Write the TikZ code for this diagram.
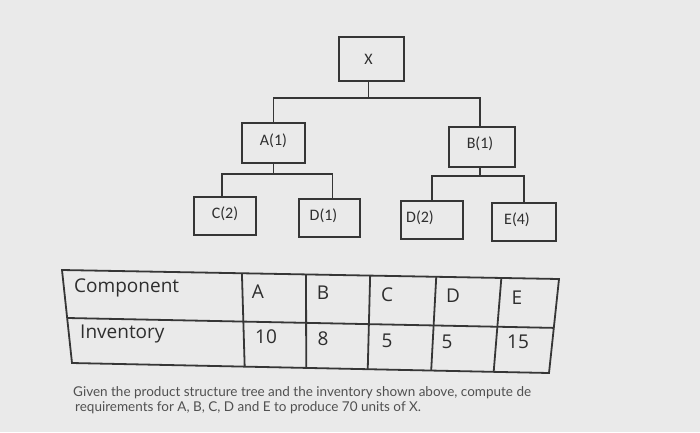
\documentclass[tikz,border=0pt]{standalone}
\usepackage{fontspec}
\setmainfont{Carlito}
\newfontfamily\tblfont{Open Sans}
\newfontfamily\capfont{Lato}
\usetikzlibrary{calc}
\definecolor{bg}{HTML}{EAEAEA}
\definecolor{ink}{HTML}{363636}
\definecolor{txt}{HTML}{2E2E2E}
\definecolor{captxt}{HTML}{505050}
\tikzset{
  treebox/.style={draw=ink, line width=1.6pt, fill=bg, minimum width=#1, inner sep=0pt},
  treebox/.default=63pt,
  lbl/.style={font=\fontsize{16}{18}\selectfont, text=txt},
  conn/.style={draw=ink, line width=1.6pt},
  tablegrid/.style={draw=ink, line width=1.8pt},
  cell/.style={font=\tblfont\fontsize{19}{21}\selectfont, text=txt, inner sep=0pt},
  captext/.style={font=\capfont\fontsize{13.5}{15}\selectfont, text=captxt, anchor=west, inner sep=0pt}
}
\begin{document}
\begin{tikzpicture}[x=1pt,y=-1pt]
\fill[bg] (0,0) rectangle (700,432);
\useasboundingbox (0,0) rectangle (700,432);

% tree boxes
\node[treebox=65pt, minimum height=44pt, label={[lbl,xshift=-3pt]center:X}] (X) at (371.5,59) {};
\node[treebox=63pt, minimum height=40pt, label={[lbl,yshift=2pt]center:A(1)}] (A) at (273.5,143) {};
\node[treebox=66pt, minimum height=40pt, label={[lbl,xshift=-2pt,yshift=3pt]center:B(1)}] (B) at (482,147) {};
\node[treebox=62pt, minimum height=38pt, label={[lbl,yshift=2pt]center:C(2)}] (C) at (225,216) {};
\node[treebox=61pt, minimum height=38pt, label={[lbl,xshift=-6pt,yshift=2pt]center:D(1)}] (D1) at (329.5,218) {};
\node[treebox=62pt, minimum height=38pt, label={[lbl,xshift=-12pt,yshift=2pt]center:D(2)}] (D2) at (432,220) {};
\node[treebox=64pt, minimum height=38pt, label={[lbl,xshift=-7pt,yshift=2pt]center:E(4)}] (E) at (524,222) {};

% connectors
\draw[conn] ([xshift=-3pt]X.south) -- ++(0,16) coordinate (xbar);
\draw[conn] (xbar) -| (A.north);
\draw[conn] (xbar) -| ([xshift=-2pt]B.north);
\draw[conn] (A.south) -- ++(0,10) coordinate (abar);
\draw[conn] (abar) -| ([xshift=-3pt]C.north);
\draw[conn] (abar) -| ([xshift=3pt]D1.north);
\draw[conn] ([xshift=-2pt]B.south) -- ++(0,8) coordinate (bbar);
\draw[conn] (bbar) -| (D2.north);
\draw[conn] (bbar) -| (E.north);

% table
\coordinate (TL) at (62,270);
\coordinate (TR) at (559,279);
\coordinate (BL) at (72,363);
\coordinate (BR) at (549,373);
\coordinate (ML) at ($(TL)!0.516!(BL)$);
\coordinate (MR) at ($(TR)!0.52!(BR)$);
\draw[tablegrid] (TL) -- (TR) -- (BR) -- (BL) -- cycle;
\draw[tablegrid] (ML) -- (MR);
\foreach \u in {0.362,0.491,0.620,0.753,0.884}{
  \draw[tablegrid] ($(TL)!\u!(TR)$) -- ($(BL)!\u!(BR)$);
}

\node[cell, anchor=west] (hc) at (74,288) {Component};
\node[cell, anchor=west] (hi) at (80,334) {Inventory};
\node[cell] (ha) at (258,292) {A};
\node[cell] (hb) at (323,293) {B};
\node[cell] (hcc) at (387,295) {C};
\node[cell] (hd) at (453,296) {D};
\node[cell] (he) at (517,298) {E};
\node[cell] (va) at (266,337) {10};
\node[cell] (vb) at (323,339) {8};
\node[cell] (vc) at (387,341) {5};
\node[cell] (vd) at (447,342) {5};
\node[cell] (ve) at (518,342) {15};

% caption
\node[captext] (c1) at (73,393) {Given the product structure tree and the inventory shown above, compute de};
\node[captext] (c2) at (75,408) {requirements for A, B, C, D and E to produce 70 units of X.};
\end{tikzpicture}
\end{document}
